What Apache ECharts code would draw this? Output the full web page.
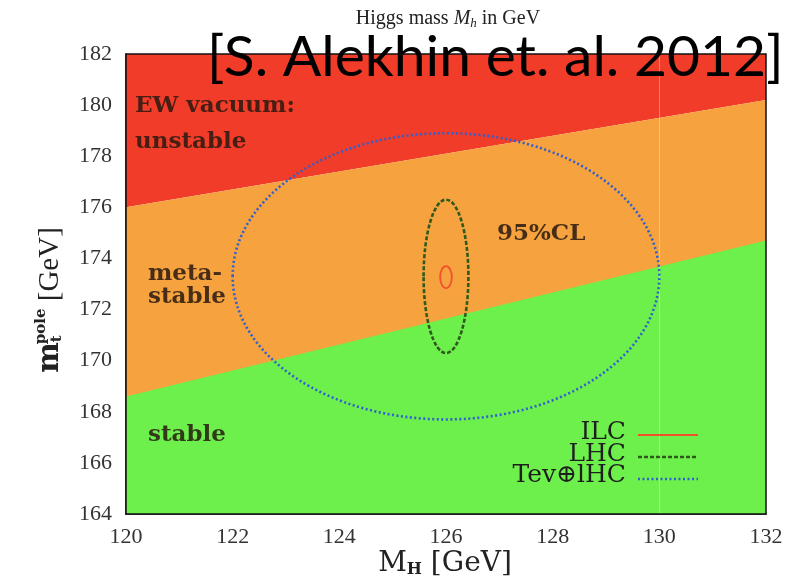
<!DOCTYPE html>
<html>
<head>
<meta charset="utf-8">
<script src="https://cdn.jsdelivr.net/npm/echarts@6/dist/echarts.min.js"></script>
<style>
  html, body { margin: 0; padding: 0; background: #ffffff; }
  #chart { width: 796px; height: 586px; }
</style>
</head>
<body>
<div id="chart"></div>
<script>
// Axis ranges and tick labels
const xTicks = [120, 122, 124, 126, 128, 130, 132];
const yTicks = [164, 166, 168, 170, 172, 174, 176, 178, 180, 182];

// Stability boundaries: [M_H, m_t] at both ends of the plotted range
const metastableUpper = [[120, 176.0], [132, 180.2]];   // above: unstable
const stableUpper = [[120, 168.6], [132, 174.7]];       // below: stable

// Projected uncertainty ellipses: [centre M_H, centre m_t, half-width, half-height]
const ellipseILC = [[126.0, 173.27, 0.11, 0.43]];
const ellipseLHC = [[126.0, 173.3, 0.42, 3.0]];
const ellipseTevLHC = [[126.0, 173.3, 4.0, 5.6]];

const legendNames = ['ILC', 'LHC', 'Tev\u2295lHC'];

const COL_RED = '#f03c28';
const COL_ORANGE = '#f5a23f';
const COL_GREEN = '#6ef04c';
const COL_ILC = '#f0502d';
const COL_LHC = '#2e5a1c';
const COL_TEV = '#2f5fd0';

const SERIF = '"DejaVu Serif", "Liberation Serif", serif';
const TIMES = '"Liberation Serif", "DejaVu Serif", serif';

function ellipseSeries(name, data, stroke, width, dash) {
  return {
    name: name,
    type: 'custom',
    data: data,
    z: 5,
    renderItem: function (params, api) {
      const c = api.coord([api.value(0), api.value(1)]);
      const s = api.size([api.value(2), api.value(3)]);
      return {
        type: 'ellipse',
        shape: { cx: c[0], cy: c[1], rx: s[0], ry: s[1] },
        style: { fill: null, stroke: stroke, lineWidth: width, lineDash: dash }
      };
    }
  };
}

const chart = echarts.init(document.getElementById('chart'), null, { renderer: 'canvas' });

function regionLabel(text, x, y) {
  return { type: 'text', z: 10, x: x, y: y,
    style: { text: text, verticalAlign: 'middle', fontFamily: SERIF, fontWeight: 'bold',
      fontSize: 23, fill: 'rgba(40,25,15,0.85)' } };
}

function legendText(text, y) {
  return { type: 'text', z: 10, x: 626, y: y,
    style: { text: text, align: 'right', verticalAlign: 'middle',
      fontFamily: SERIF, fontSize: 25, fill: '#1e1e1e' } };
}

const option = {
  animation: false,
  backgroundColor: '#ffffff',
  grid: { left: 126, right: 30, top: 54, bottom: 72 },
  xAxis: {
    type: 'value',
    min: xTicks[0],
    max: xTicks[xTicks.length - 1],
    interval: 2,
    axisLine: { show: true, onZero: false, lineStyle: { color: '#111', width: 1.5 } },
    axisTick: { show: false },
    splitLine: { show: false },
    axisLabel: { color: '#333', fontFamily: TIMES, fontSize: 22, margin: 12 }
  },
  yAxis: {
    type: 'value',
    min: yTicks[0],
    max: yTicks[yTicks.length - 1],
    interval: 2,
    axisLine: { show: true, onZero: false, lineStyle: { color: '#111', width: 1.5 } },
    axisTick: { show: false },
    splitLine: { show: false },
    axisLabel: { color: '#333', fontFamily: TIMES, fontSize: 22, margin: 14 }
  },
  series: [
    {
      name: 'unstable',
      type: 'line',
      data: metastableUpper,
      symbol: 'none',
      lineStyle: { width: 0 },
      areaStyle: { color: COL_RED, opacity: 1, origin: 'end' },
      z: 1
    },
    {
      name: 'metastable',
      type: 'line',
      data: metastableUpper,
      symbol: 'none',
      lineStyle: { width: 0 },
      areaStyle: { color: COL_ORANGE, opacity: 1, origin: 'start' },
      z: 1
    },
    {
      name: 'stable',
      type: 'line',
      data: stableUpper,
      symbol: 'none',
      lineStyle: { width: 0 },
      areaStyle: { color: COL_GREEN, opacity: 1, origin: 'start' },
      z: 2,
      markLine: {
        silent: true,
        symbol: 'none',
        label: { show: false },
        lineStyle: { color: 'rgba(255,255,255,0.35)', width: 1, type: 'solid' },
        data: [{ xAxis: 130 }]
      }
    },
    ellipseSeries(legendNames[2], ellipseTevLHC, COL_TEV, 2.6, [2, 2.5]),
    ellipseSeries(legendNames[1], ellipseLHC, COL_LHC, 2.6, [4, 2]),
    ellipseSeries(legendNames[0], ellipseILC, COL_ILC, 1.8, null)
  ],
  graphic: [
    // frame on the top and right edges
    { type: 'rect', z: 10, shape: { x: 126, y: 54, width: 640, height: 460 },
      style: { fill: null, stroke: '#111', lineWidth: 1.5 } },
    // title
    { type: 'text', z: 10, x: 448, y: 7,
      style: { text: '{n|Higgs mass }{i|M}{s|h}{n| in GeV}', align: 'center',
        rich: {
          n: { fontSize: 20, fontFamily: TIMES, fill: '#222' },
          i: { fontSize: 20, fontFamily: TIMES, fontStyle: 'italic', fill: '#222' },
          s: { fontSize: 13, fontFamily: TIMES, fontStyle: 'italic', fill: '#222', padding: [10, 0, 0, 0] }
        } } },
    // citation
    { type: 'text', z: 20, x: 207, y: 29,
      style: { text: '[S. Alekhin et. al. 2012]', fontFamily: 'Lato, "Open Sans", sans-serif',
        fontSize: 57, fill: '#000' } },
    // region labels
    regionLabel('EW vacuum:', 135, 106),
    regionLabel('unstable', 135, 142),
    regionLabel('meta-', 148, 274),
    regionLabel('stable', 148, 297),
    regionLabel('stable', 148, 435),
    regionLabel('95%CL', 497, 234),
    // legend
    legendText(legendNames[0], 432),
    legendText(legendNames[1], 454),
    legendText(legendNames[2], 475),
    { type: 'line', z: 10, shape: { x1: 638, y1: 435, x2: 698, y2: 435 },
      style: { stroke: COL_ILC, lineWidth: 2.2 } },
    { type: 'line', z: 10, shape: { x1: 638, y1: 457, x2: 698, y2: 457 },
      style: { stroke: COL_LHC, lineWidth: 2.5, lineDash: [4, 2] } },
    { type: 'line', z: 10, shape: { x1: 638, y1: 479, x2: 698, y2: 479 },
      style: { stroke: COL_TEV, lineWidth: 2.5, lineDash: [2, 2.5] } },
    // x-axis name
    { type: 'text', z: 10, x: 445, y: 550,
      style: { text: '{m|M}{s|H}{m| [GeV]}', align: 'center',
        rich: {
          m: { fontSize: 28, fontFamily: SERIF, fill: '#222' },
          s: { fontSize: 16, fontFamily: SERIF, fontWeight: 'bold', fill: '#222', padding: [12, 0, 0, 0] }
        } } },
    // y-axis name
    { type: 'group', x: 50, y: 300, rotation: Math.PI / 2,
      children: [
        { type: 'text', z: 10, x: 0, y: 0,
          style: { text: '{m|m}{t|t}{p|pole}{g| [GeV]}', align: 'center', verticalAlign: 'middle',
            rich: {
              m: { fontSize: 29, fontFamily: SERIF, fontWeight: 'bold', fill: '#222' },
              t: { fontSize: 15, fontFamily: SERIF, fontWeight: 'bold', fill: '#222', padding: [14, 0, 0, 0] },
              p: { fontSize: 15, fontFamily: SERIF, fontWeight: 'bold', fill: '#222', padding: [0, 0, 18, -9] },
              g: { fontSize: 29, fontFamily: TIMES, fill: '#222' }
            } } }
      ] }
  ]
};

chart.setOption(option);
</script>
</body>
</html>
